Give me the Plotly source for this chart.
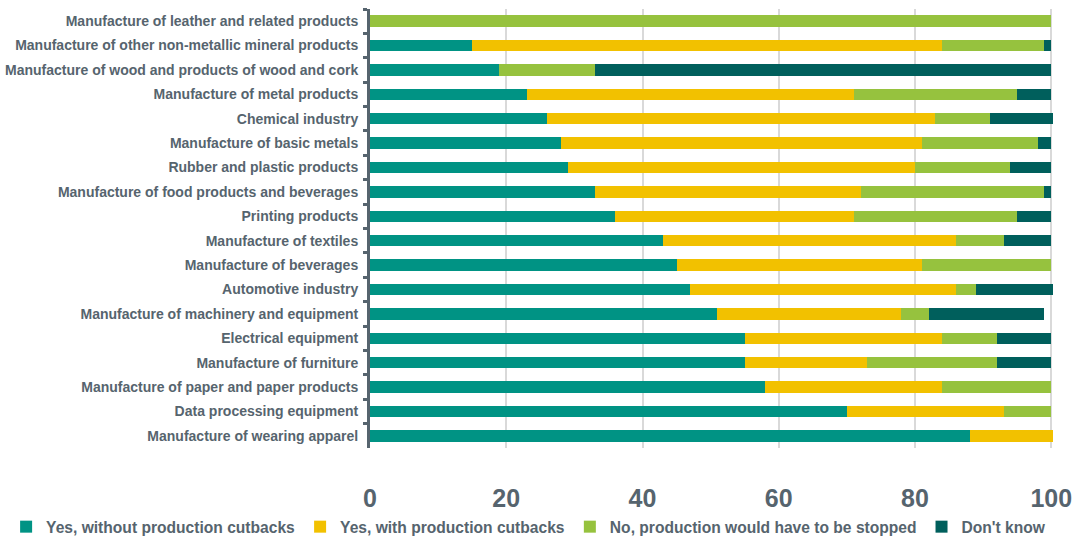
import plotly.graph_objects as go

categories = [
    "Manufacture of leather and related products",
    "Manufacture of other non-metallic mineral products",
    "Manufacture of wood and products of wood and cork",
    "Manufacture of metal products",
    "Chemical industry",
    "Manufacture of basic metals",
    "Rubber and plastic products",
    "Manufacture of food products and beverages",
    "Printing products",
    "Manufacture of textiles",
    "Manufacture of beverages",
    "Automotive industry",
    "Manufacture of machinery and equipment",
    "Electrical equipment",
    "Manufacture of furniture",
    "Manufacture of paper and paper products",
    "Data processing equipment",
    "Manufacture of wearing apparel",
]

yes_without = [0, 15, 19, 23, 26, 28, 29, 33, 36, 43, 45, 47, 51, 55, 55, 58, 70, 88]
yes_with = [0, 69, 0, 48, 57, 53, 51, 39, 35, 43, 36, 39, 27, 29, 18, 26, 23, 12.3]
no_stopped = [100, 15, 14, 24, 8, 17, 14, 27, 24, 7, 19, 3, 4, 8, 19, 16, 7, 0]
dont_know = [0, 1, 67, 5, 9.3, 2, 6, 1, 5, 7, 0, 11.3, 17, 8, 8, 0, 0, 0]

series_names = [
    "Yes, without production cutbacks",
    "Yes, with production cutbacks",
    "No, production would have to be stopped",
    "Don't know",
]
series_values = [yes_without, yes_with, no_stopped, dont_know]
colors = ["#009384", "#F2C100", "#96C23E", "#005F5C"]

text_color = "#56646E"
fig = go.Figure()
for name, vals, col in zip(series_names, series_values, colors):
    fig.add_trace(go.Bar(
        y=categories, x=vals, name=name, orientation="h",
        marker=dict(color=col, line=dict(width=0)),
    ))

fig.update_layout(
    barmode="stack",
    bargap=0.53,
    width=1080, height=539,
    margin=dict(l=370, r=26, t=9, b=91, autoexpand=False),
    plot_bgcolor="white", paper_bgcolor="white",
    font=dict(family="Liberation Sans", color=text_color),
    legend=dict(
        orientation="h",
        x=-0.532, xanchor="left", y=-0.18, yanchor="middle",
        font=dict(size=15.6, weight="bold", color=text_color),
        itemwidth=30, traceorder="normal",
        bgcolor="rgba(0,0,0,0)",
    ),
    xaxis=dict(
        range=[0, 100.4], tickvals=[0, 20, 40, 60, 80, 100],
        showgrid=True, gridcolor="#D9D9D9", gridwidth=1.5,
        zeroline=False, showline=False,
        tickfont=dict(size=25, weight="bold", color=text_color),
        ticks="", ticklabelstandoff=33,
    ),
    yaxis=dict(
        autorange="reversed",
        showline=True, linecolor="#56646E", linewidth=3,
        ticks="outside", tickson="boundaries", ticklen=4, tickwidth=3,
        tickcolor="#56646E", ticklabelstandoff=6,
        tickfont=dict(size=14, weight="bold", color=text_color),
        showgrid=False,
    ),
)

fig.write_html("out.html")
